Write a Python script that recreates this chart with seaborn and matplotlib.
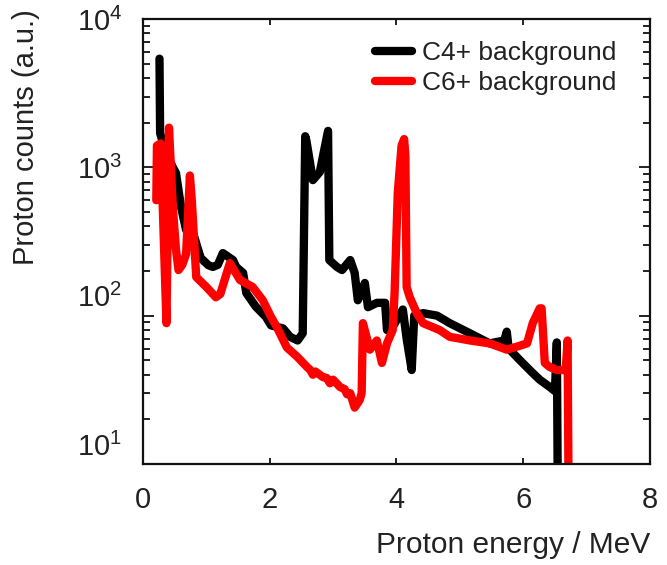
import matplotlib
matplotlib.use("Agg")
import matplotlib.pyplot as plt
import matplotlib.ticker as mticker
import matplotlib.transforms as mtransforms
import numpy as np
import pandas as pd
import seaborn as sns

# Proton spectrum, C4+ background (energy in MeV, counts in a.u.)
c4_energy = [0.26, 0.27, 0.35, 0.47, 0.52, 0.60, 0.68, 0.79, 0.91, 1.03,
             1.10, 1.18, 1.26, 1.42, 1.47, 1.58, 1.63, 1.78, 1.94, 2.02,
             2.21, 2.32, 2.44, 2.52, 2.56, 2.58, 2.68, 2.79, 2.92, 2.94,
             3.06, 3.14, 3.27, 3.34, 3.39, 3.50, 3.55, 3.69, 3.82, 3.85,
             3.94, 4.00, 4.10, 4.16, 4.24, 4.28, 4.42, 4.64, 4.84, 5.16,
             5.47, 5.70, 5.74, 5.77, 5.91, 5.99, 6.15, 6.26, 6.42, 6.50,
             6.53, 6.55]
c4_counts = [5400, 1700, 1300, 1000, 916, 540, 378, 361, 245, 219,
             213, 220, 264, 237, 213, 194, 142, 115, 98, 86,
             82, 72, 68, 76, 1620, 1500, 820, 930, 1760, 237,
             213, 203, 237, 194, 127, 166, 114, 122, 122, 80,
             84, 93, 110, 70, 43, 100, 104, 100, 89, 76,
             65, 68, 78, 60, 52, 48, 41, 37, 33, 31,
             66, 3]

# Proton spectrum, C6+ background
c6_energy = [0.21, 0.22, 0.28, 0.37, 0.41, 0.47, 0.52, 0.56, 0.62, 0.68,
             0.74, 0.77, 0.84, 1.00, 1.15, 1.22, 1.37, 1.53, 1.73, 1.89,
             2.02, 2.11, 2.27, 2.43, 2.59, 2.64, 2.68, 2.72, 2.84, 2.90,
             2.95, 3.00, 3.11, 3.18, 3.22, 3.27, 3.34, 3.42, 3.45, 3.47,
             3.58, 3.69, 3.77, 3.85, 3.94, 3.97, 4.02, 4.08, 4.12, 4.14,
             4.16, 4.21, 4.32, 4.42, 4.68, 4.84, 5.16, 5.47, 5.74, 5.91,
             6.06, 6.15, 6.26, 6.29, 6.34, 6.42, 6.53, 6.67, 6.70, 6.72]
c6_counts = [600, 1400, 1450, 89, 1850, 540, 280, 203, 220, 260,
             880, 600, 182, 156, 133, 140, 226, 174, 156, 127,
             98, 84, 61, 53, 45, 43, 40, 42, 38.5, 38,
             35, 37, 33, 32, 29.5, 30, 24, 27, 30, 89,
             59, 68, 48, 65, 80, 142, 671, 1400, 1550, 1200,
             156, 133, 104, 89, 80, 72, 68, 65, 59, 62,
             65, 89, 112, 112, 48, 45, 43, 43, 68, 3]

series_names = ["C4+ background", "C6+ background"]
series_colors = ["#000000", "#ff0000"]

x_ticks = [0, 2, 4, 6, 8]
y_ticks = [10, 100, 1000, 10000]

spectra = pd.concat([
    pd.DataFrame({"energy": c4_energy, "counts": c4_counts, "series": series_names[0]}),
    pd.DataFrame({"energy": c6_energy, "counts": c6_counts, "series": series_names[1]}),
], ignore_index=True)

sns.set_style("ticks")
plt.rcParams["font.family"] = ["Liberation Sans", "DejaVu Sans"]
plt.rcParams["mathtext.fontset"] = "custom"
plt.rcParams["mathtext.rm"] = "Liberation Sans"
plt.rcParams["mathtext.it"] = "Liberation Sans:italic"
plt.rcParams["mathtext.bf"] = "Liberation Sans:bold"

fig = plt.figure(figsize=(6.67, 5.65), dpi=100)
ax = fig.add_axes([0.2144, 0.1788, 0.7601, 0.7876])

sns.lineplot(data=spectra, x="energy", y="counts", hue="series",
             palette=dict(zip(series_names, series_colors)),
             sort=False, estimator=None, linewidth=6.0, ax=ax)

ax.set_yscale("log")
ax.set_xlim(0, 8)
ax.set_ylim(10, 10000)
ax.set_xticks(x_ticks)
ax.set_yticks(y_ticks)
ax.yaxis.set_major_formatter(mticker.LogFormatterSciNotation())
ax.yaxis.set_minor_locator(mticker.LogLocator(base=10, subs=np.arange(2, 10)))
ax.yaxis.set_minor_formatter(mticker.NullFormatter())

for side in ["left", "right", "top", "bottom"]:
    ax.spines[side].set_linewidth(1.6)
    ax.spines[side].set_color("#111111")

ax.tick_params(axis="both", which="both", direction="in", top=True, right=True,
               color="#111111", width=1.3)
ax.tick_params(axis="x", which="major", length=4.5, pad=16, labelsize=21,
               labelcolor="#222222")
ax.tick_params(axis="y", which="major", length=8, pad=15, labelsize=21,
               labelcolor="#222222")
ax.tick_params(axis="y", which="minor", length=5)

# the two lower decade labels sit a little above their ticks
lift = mtransforms.ScaledTranslation(0, 20 / 100, fig.dpi_scale_trans)
for tick in ax.yaxis.get_major_ticks()[:2]:
    tick.label1.set_transform(tick.label1.get_transform() + lift)

ax.set_xlabel("Proton energy / MeV", fontsize=21.5, color="#222222",
              ha="right")
ax.xaxis.set_label_coords(1.0, -0.150)
ax.set_ylabel("Proton counts (a.u.)", fontsize=21, color="#222222")
ax.yaxis.set_label_coords(-0.203, 0.735)

leg = ax.legend(loc="upper left", bbox_to_anchor=(0.4576, 0.95),
                frameon=False, fontsize=19, handlelength=1.4,
                handletextpad=0.38, labelspacing=0.22, borderpad=0,
                borderaxespad=0)
for line in leg.get_lines():
    line.set_linewidth(6.0)
for txt in leg.get_texts():
    txt.set_color("#222222")

fig.savefig("out.png", dpi=100)
